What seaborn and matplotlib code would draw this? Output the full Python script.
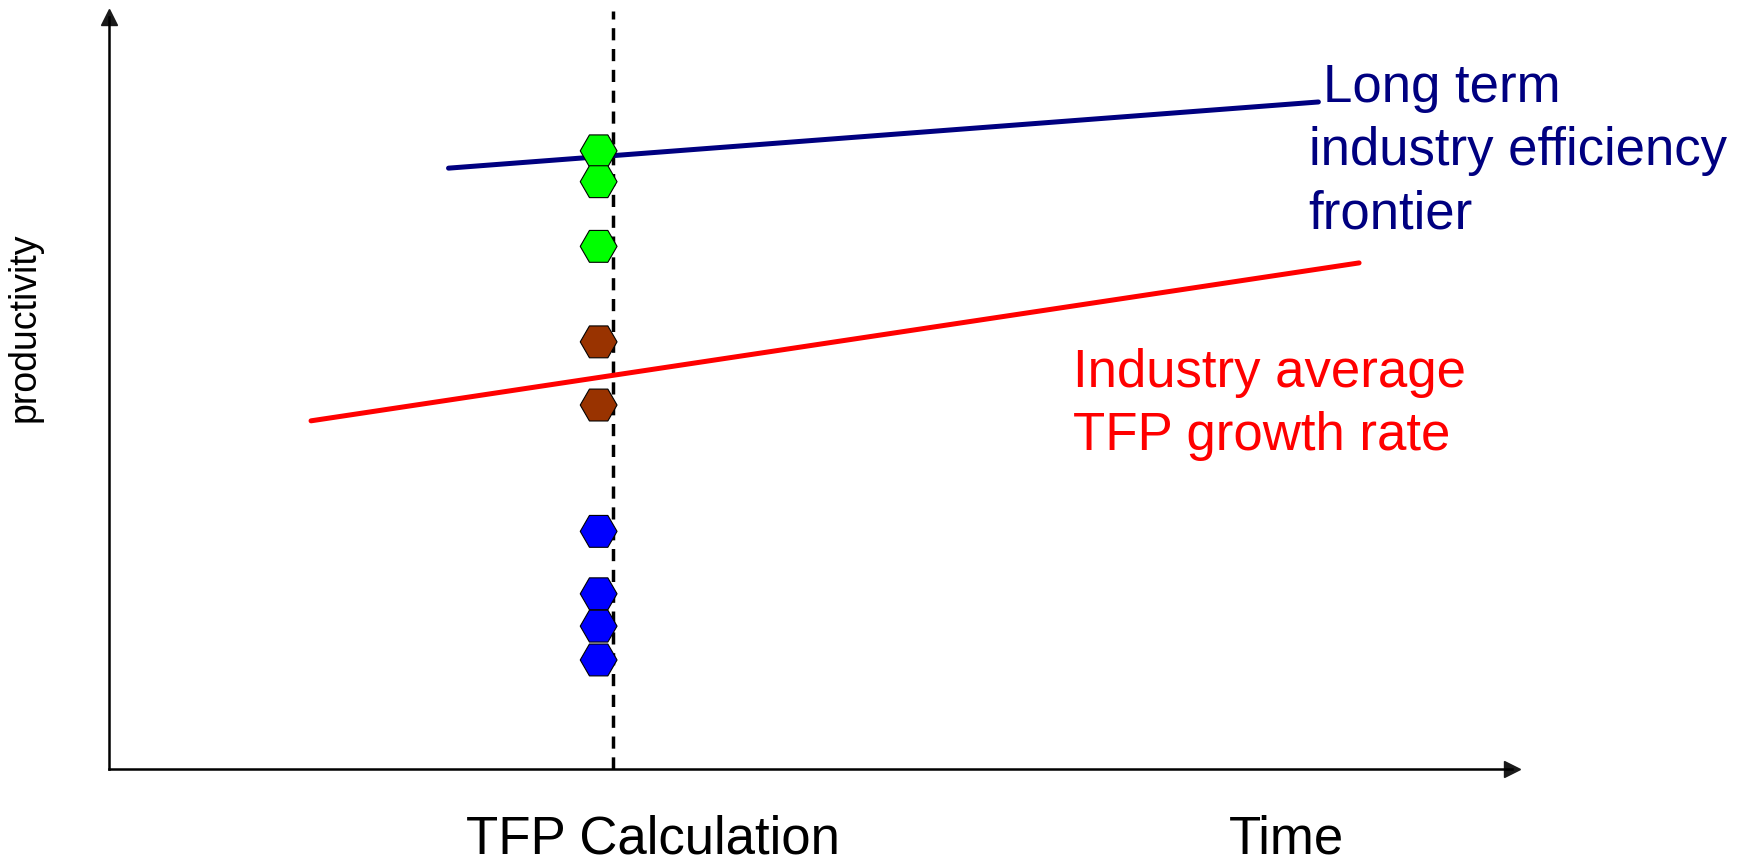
import pandas as pd
import seaborn as sns
import matplotlib.pyplot as plt

# concept chart: time on x (0-100), productivity on y (0-100)
frontier_x = [24.2, 86.2]
frontier_y = [79.9, 88.7]
average_x = [14.4, 89.1]
average_y = [46.3, 67.3]

calc_time = 35.9
firm_time = 34.9
firm_prod = [82.2, 78.1, 69.5, 56.8, 48.4, 31.6, 23.3, 19.0, 14.5]
firm_group = ["high", "high", "high", "mid", "mid", "low", "low", "low", "low"]
group_colors = {"high": "#00FF00", "mid": "#993300", "low": "#0000FF"}

sns.set_theme(style="white")
plt.rcParams["font.family"] = ["Liberation Sans", "DejaVu Sans"]
plt.rcParams["text.color"] = "black"

fig = plt.figure(figsize=(17.48, 8.67), dpi=100)
ax = fig.add_axes([109 / 1748, 98 / 867, 1403 / 1748, 752 / 867])
ax.set_xlim(0, 100)
ax.set_ylim(0, 100)

# lines
df_front = pd.DataFrame({"x": frontier_x, "y": frontier_y})
df_avg = pd.DataFrame({"x": average_x, "y": average_y})
sns.lineplot(data=df_front, x="x", y="y", color="#000080", linewidth=3.6, ax=ax)
sns.lineplot(data=df_avg, x="x", y="y", color="#FF0000", linewidth=3.6, ax=ax)

# dashed line at the TFP calculation point
ax.axvline(calc_time, ymin=0, ymax=1.008, color="black", linewidth=2.5,
           linestyle=(0, (3.5, 2.5)), clip_on=False, zorder=1)

# firms
df_firms = pd.DataFrame({"x": [firm_time] * len(firm_prod), "y": firm_prod, "g": firm_group})
sns.scatterplot(data=df_firms, x="x", y="y", hue="g", palette=group_colors, marker="H",
                s=26.5 ** 2, edgecolor="black", linewidth=0.8, legend=False, ax=ax, zorder=3)

# axes with arrows
for side in ["top", "right"]:
    ax.spines[side].set_visible(False)
for side in ["left", "bottom"]:
    ax.spines[side].set_linewidth(1.8)
    ax.spines[side].set_color("black")
ax.plot(1, 0, ">k", ms=11, transform=ax.get_yaxis_transform(), clip_on=False)
ax.plot(0, 1, "^k", ms=11, transform=ax.get_xaxis_transform(), clip_on=False)
ax.set_xticks([])
ax.set_yticks([])
ax.set_xlabel("")
ax.set_ylabel("")

# labels
fs = 38
ax.text(86.5, 88.7, "Long term", color="#000080", fontsize=fs, va="baseline")
ax.text(85.5, 80.3, "industry efficiency", color="#000080", fontsize=fs, va="baseline")
ax.text(85.5, 71.9, "frontier", color="#000080", fontsize=fs, va="baseline")
ax.text(68.7, 50.8, "Industry average", color="#FF0000", fontsize=fs, va="baseline")
ax.text(68.7, 42.4, "TFP growth rate", color="#FF0000", fontsize=fs, va="baseline")
ax.text(38.8, -12.75, "TFP Calculation", color="black", fontsize=fs, ha="center", va="bottom", clip_on=False)
ax.text(83.9, -12.75, "Time", color="black", fontsize=fs, ha="center", va="bottom", clip_on=False)
ax.text(-6.0, 58.8, "productivity", color="black", fontsize=27, rotation=90,
        ha="center", va="center", clip_on=False)

fig.savefig("out.png", dpi=100)
